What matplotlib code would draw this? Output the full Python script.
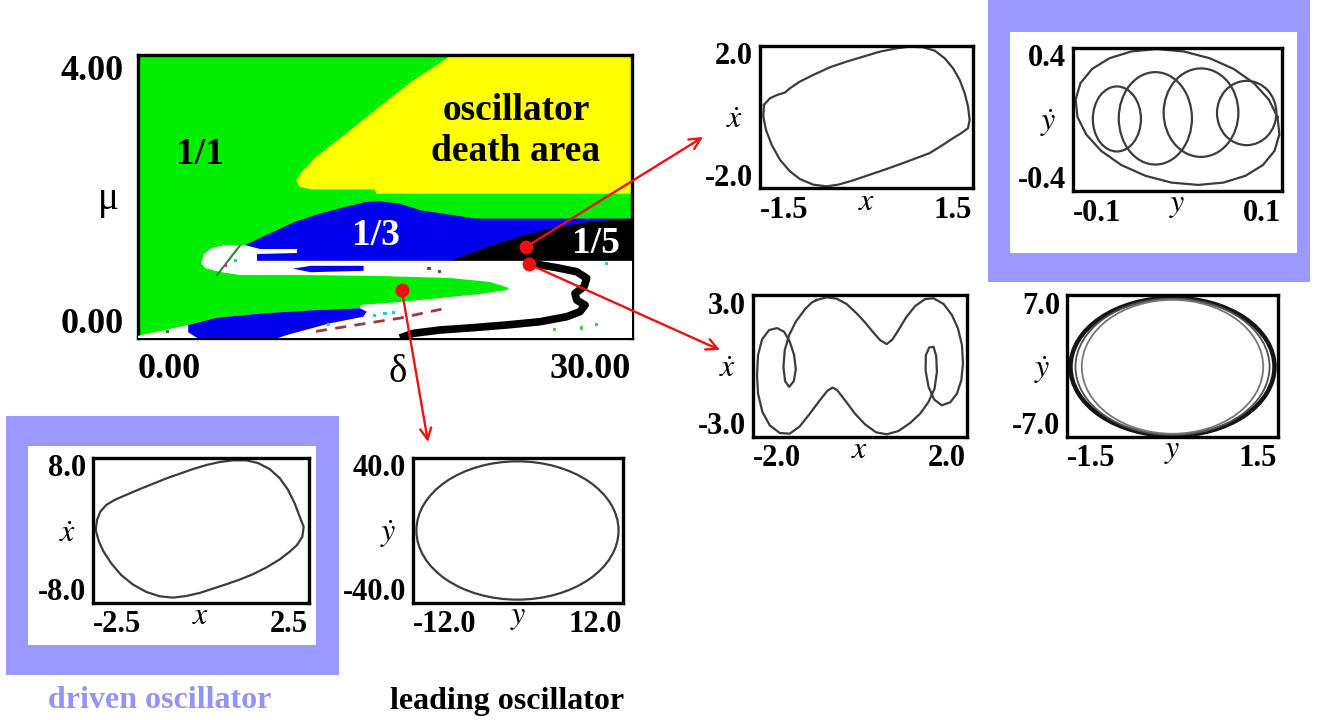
import matplotlib
matplotlib.use("Agg")
import matplotlib.pyplot as plt
import numpy as np
from matplotlib.patches import Polygon, Ellipse, Rectangle, ConnectionPatch

plt.rcParams['font.family'] = ['Liberation Serif', 'DejaVu Serif']
plt.rcParams['mathtext.fontset'] = 'stix'

# ---------------- data: main (delta, mu) map ----------------
delta_lim = [0.0, 30.0]
mu_lim = [0.0, 4.0]

yellow_d = [19.07, 16.65, 14.62, 12.58, 10.81, 9.92, 9.61, 9.79, 10.55, 14.36, 14.49, 30.0, 30.0]
yellow_m = [4.00, 3.63, 3.26, 2.88, 2.56, 2.34, 2.23, 2.14, 2.10, 2.10, 2.04, 2.04, 4.00]

blue_up_d = [6.48, 8.01, 9.53, 11.06, 12.58, 13.86, 14.62, 15.89, 17.16, 19.19, 20.47, 30.0, 30.0, 6.5, 6.2]
blue_up_m = [1.313, 1.477, 1.641, 1.759, 1.852, 1.923, 1.932, 1.899, 1.805, 1.735, 1.688, 1.688, 1.09, 1.09, 1.25]

black_d = [19.0, 19.4, 21.4, 23.3, 25.3, 27.6, 30.0, 30.0]
black_m = [1.09, 1.13, 1.30, 1.44, 1.56, 1.65, 1.68, 1.09]

white_d = [3.83, 4.01, 4.49, 5.28, 6.50, 7.41, 9.66, 9.66, 7.23, 7.23, 30.0, 30.0, 0.0, 0.0,
           3.05, 4.78, 7.61, 10.85, 13.48, 13.48, 15.91, 18.34, 20.77, 22.41, 22.53,
           21.38, 18.95, 14.70, 9.84, 7.23, 6.19, 4.98, 4.07]
white_m = [1.060, 1.187, 1.272, 1.314, 1.314, 1.258, 1.258, 1.201, 1.187, 1.09, 1.09, 0.0, 0.0, 0.03,
           0.184, 0.287, 0.349, 0.396, 0.420, 0.466, 0.509, 0.565, 0.622, 0.678, 0.707,
           0.792, 0.848, 0.876, 0.890, 0.890, 0.890, 0.933, 0.989]

blue_low_d = [3.05, 4.78, 7.61, 10.85, 13.48, 13.89, 13.68, 11.66, 9.03, 8.5, 3.6, 3.05]
blue_low_m = [0.184, 0.287, 0.349, 0.396, 0.420, 0.372, 0.301, 0.208, 0.042, 0.0, 0.0, 0.08]

sliver_d = [9.4, 10.5, 13.7, 13.7, 10.5]
sliver_m = [0.98, 1.02, 1.02, 0.95, 0.93]

s_curve_d = [23.5, 25.43, 26.64, 27.25, 27.09, 26.54, 26.64, 27.15, 26.84, 26.04, 24.41, 22.39,
             20.36, 18.34, 16.72, 15.91]
s_curve_m = [1.07, 0.994, 0.937, 0.844, 0.725, 0.632, 0.537, 0.466, 0.372, 0.301, 0.230, 0.184,
             0.146, 0.113, 0.066, 0.0]

dash_d = [10.81, 13.35, 15.89, 18.43]
dash_m = [0.094, 0.188, 0.28, 0.408]

tip_green_d = [4.8, 6.2]
tip_green_m = [0.89, 1.31]

# stray coloured pixels of the map
speck_d = [14.36, 15.0, 15.51, 17.67, 18.31, 25.30, 26.95, 27.84, 11.57, 1.78, 28.47, 5.3, 5.9]
speck_m = [0.314, 0.342, 0.361, 0.985, 0.938, 0.117, 0.141, 0.188, 0.188, 0.094, 1.055, 1.02, 1.10]
speck_c = ['#22cccc', '#22cccc', '#22cccc', '#a03838', '#a03838', '#33dd33', '#33dd33', '#33dd33',
           '#22cccc', '#228822', '#22cccc', '#cc3399', '#22cccc']

# red marked points and where their arrows end (figure pixels)
dot_d = [23.59, 23.72, 16.02]
dot_m = [1.29, 1.046, 0.68]
arrow_end_px = [(703, 137), (720, 350), (428, 442)]

# ---------------- data: phase portraits ----------------
p1_x = [-1.444, -1.359, -1.256, -1.148, -1.078, -0.938, -0.750, -0.516, -0.281, -0.047, 0.188, 0.422,
        0.609, 0.797, 0.961, 1.102, 1.219, 1.313, 1.383, 1.430, 1.453, 1.430, 1.336, 1.219, 1.078, 0.891,
        0.703, 0.516, 0.281, 0.047, -0.188, -0.398, -0.563, -0.750, -0.938, -1.078, -1.219, -1.336,
        -1.416, -1.453]
p1_v = [0.342, 0.529, 0.623, 0.689, 0.810, 0.998, 1.185, 1.400, 1.560, 1.700, 1.841, 1.934,
        1.981, 1.963, 1.869, 1.653, 1.372, 1.044, 0.670, 0.295, -0.080, -0.314, -0.454, -0.595, -0.782,
        -1.016, -1.157, -1.297, -1.466, -1.625, -1.785, -1.906, -1.953, -1.906, -1.747, -1.532, -1.204,
        -0.782, -0.361, 0.014]

p2_big_y = [0.0957, 0.0873, 0.0730, 0.0537, 0.0307, 0.0057, -0.0198, -0.0439, -0.0650, -0.0817, -0.0928,
            -0.0975, -0.0957, -0.0873, -0.0730, -0.0537, -0.0307, -0.0057, 0.0198, 0.0439, 0.0650, 0.0817,
            0.0928, 0.0975]
p2_big_v = [0.014, 0.112, 0.204, 0.283, 0.343, 0.381, 0.394, 0.381, 0.343, 0.283, 0.204, 0.112,
            0.014, -0.084, -0.176, -0.255, -0.315, -0.353, -0.366, -0.353, -0.315, -0.255, -0.176, -0.084]
p2_loop_cy = [-0.058, -0.0212, 0.0225, 0.0662]
p2_loop_cv = [0.003, 0.0065, 0.0383, 0.0364]
p2_loop_w = [0.046, 0.070, 0.0715, 0.0568]
p2_loop_h = [0.364, 0.517, 0.495, 0.360]

p3_x = [-0.8125, -0.625, -0.4375, -0.25, -0.0625, 0.094, 0.2375, 0.375, 0.5, 0.606, 0.719, 0.8625, 1.031,
        1.219, 1.375, 1.5625, 1.719, 1.831, 1.906, 1.925, 1.894, 1.8125, 1.6875, 1.531, 1.3875, 1.281,
        1.225, 1.231, 1.294, 1.375, 1.425, 1.4375, 1.394, 1.281, 1.125, 0.9375, 0.719, 0.5, 0.3, 0.094,
        -0.094, -0.281, -0.425, -0.5125, -0.6125, -0.75, -0.9375, -1.125, -1.3125, -1.5, -1.6875, -1.825,
        -1.906, -1.925, -1.906, -1.831, -1.7, -1.55, -1.419, -1.3125, -1.231, -1.2, -1.2375, -1.325, -1.4,
        -1.431, -1.406, -1.325, -1.2, -1.031, -0.906]
p3_v = [2.788, 2.901, 2.845, 2.619, 2.224, 1.842, 1.447, 1.094, 0.925, 1.122, 1.518, 2.054, 2.534,
        2.831, 2.859, 2.619, 2.153, 1.588, 0.882, 0.106, -0.600, -1.165, -1.532, -1.659, -1.419, -0.882,
        -0.177, 0.459, 0.783, 0.812, 0.416, -0.247, -0.953, -1.518, -2.012, -2.407, -2.746, -2.887, -2.802,
        -2.464, -2.012, -1.447, -1.024, -0.911, -1.052, -1.447, -2.012, -2.548, -2.859, -2.831, -2.506,
        -1.941, -1.165, -0.388, 0.459, 1.122, 1.518, 1.602, 1.447, 1.024, 0.459, -0.148, -0.642, -0.882,
        -0.642, -0.035, 0.671, 1.306, 1.871, 2.393, 2.675]

p4_cy = [0.0, 0.0, 0.0]
p4_cv = [-0.08, -0.08, -0.08]
p4_w = [2.90, 2.76, 2.58]
p4_h = [13.6, 13.45, 13.2]

p5_x = [-2.438, -2.407, -2.330, -2.191, -1.998, -1.728, -1.420, -1.111, -0.802, -0.494, -0.185, 0.123,
        0.432, 0.741, 1.049, 1.319, 1.590, 1.821, 2.014, 2.168, 2.284, 2.377, 2.346, 2.222, 2.052, 1.821,
        1.512, 1.204, 0.895, 0.586, 0.278, -0.031, -0.340, -0.648, -0.957, -1.265, -1.574, -1.844, -2.076,
        -2.253, -2.361]
p5_v = [0.055, 1.164, 2.088, 2.827, 3.381, 3.935, 4.563, 5.155, 5.746, 6.263, 6.781, 7.224,
        7.557, 7.741, 7.741, 7.446, 6.781, 5.783, 4.490, 3.011, 1.533, 0.425, -0.684, -1.608, -2.347, -3.196,
        -4.083, -4.822, -5.414, -5.931, -6.411, -6.892, -7.224, -7.409, -7.261, -6.781, -5.968, -4.933, -3.640,
        -2.347, -1.238]

p6_cy = [-0.06]
p6_cv = [0.0]
p6_w = [23.1]
p6_h = [76.3]

# ---------------- figure ----------------
W, H = 1326, 720
fig = plt.figure(figsize=(W / 100, H / 100), dpi=100)
fig.patch.set_facecolor('white')

def fx(px):
    return px / W

def fy(py):
    return 1 - py / H

def box_axes(l, t, r, b):
    a = fig.add_axes([l / W, 1 - b / H, (r - l) / W, (b - t) / H])
    a.set_xticks([])
    a.set_yticks([])
    for s in a.spines.values():
        s.set_linewidth(2.4)
        s.set_color('black')
    return a

LAV = '#9999ff'
# lavender frames (behind everything)
for (l, t, r, b), (il, it, ir, ib) in [((988, 0, 1310, 282), (1010, 32, 1297, 253)),
                                       ((6, 416, 339, 675), (28, 446, 316, 645))]:
    fig.add_artist(Rectangle((fx(l), fy(b)), (r - l) / W, (b - t) / H, transform=fig.transFigure,
                             fc=LAV, ec='none', zorder=0))
    fig.add_artist(Rectangle((fx(il), fy(ib)), (ir - il) / W, (ib - it) / H, transform=fig.transFigure,
                             fc='white', ec='none', zorder=0))

# ---------------- main map ----------------
ax = box_axes(138, 55, 632, 338)
ax.set_facecolor('#00ee00')
ax.set_xlim(delta_lim)
ax.set_ylim(mu_lim)

def poly(d, m, c, z):
    ax.add_patch(Polygon(np.column_stack([d, m]), closed=True, fc=c, ec='none', zorder=z))

poly(yellow_d, yellow_m, '#ffff00', 1)
poly(blue_up_d, blue_up_m, '#0000ee', 1)
poly(black_d, black_m, 'black', 2)
poly(white_d, white_m, 'white', 3)
poly(blue_low_d, blue_low_m, '#0000ee', 4)
poly(sliver_d, sliver_m, '#0000ee', 4)
ax.plot(s_curve_d, s_curve_m, color='black', lw=5.5, solid_capstyle='butt', solid_joinstyle='round', zorder=5)
ax.plot(dash_d, dash_m, color='#a03838', lw=2, dashes=(4, 3), zorder=5)
ax.plot(tip_green_d, tip_green_m, color='#2a8a2a', lw=1.5, zorder=5)
ax.scatter(speck_d, speck_m, c=speck_c, s=5, marker='s', linewidths=0, zorder=5)

lab = dict(fontsize=27, fontweight='bold', ha='center', va='center', zorder=6)
ax.text(3.77, 2.59, '1/1', **lab)
ax.text(14.42, 1.45, '1/3', color='white', **lab)
ax.text(27.8, 1.34, '1/5', color='white', **lab)
ax.text(23.0, 3.21, 'oscillator', **lab)
ax.text(22.95, 2.63, 'death area', **lab)

ax.plot(dot_d, dot_m, 'o', color='#ee1111', ms=9, zorder=8, clip_on=False)
for d, m, (ex, ey) in zip(dot_d, dot_m, arrow_end_px):
    fig.add_artist(ConnectionPatch(xyA=(d, m), coordsA=ax.transData,
                                   xyB=(fx(ex), fy(ey)), coordsB=fig.transFigure,
                                   arrowstyle='->,head_length=0.8,head_width=0.4',
                                   color='#ee1111', lw=1.7, zorder=9))

tick_kw = dict(fontsize=26, fontweight='bold', va='center')
fig.text(fx(124), fy(72), f"{mu_lim[1]:.2f}", ha='right', **tick_kw)
fig.text(fx(124), fy(325), f"{mu_lim[0]:.2f}", ha='right', **tick_kw)
fig.text(fx(138), fy(370), f"{delta_lim[0]:.2f}", ha='left', **tick_kw)
fig.text(fx(631), fy(370), f"{delta_lim[1]:.2f}", ha='right', **tick_kw)
fig.text(fx(108), fy(200), '\u03bc', fontsize=28, ha='center', va='center')
fig.text(fx(398), fy(372), '\u03b4', fontsize=28, ha='center', va='center')

# ---------------- phase portraits ----------------
CURVE = '#3c3c3c'

def panel(box, xlim, ylim, xname, yname):
    l, t, r, b = box
    a = box_axes(l, t, r, b)
    a.set_xlim(xlim)
    a.set_ylim(ylim)
    kw = dict(fontsize=22, fontweight='bold', va='center')
    fig.text(fx(l - 7), fy(t + 11), f"{ylim[1]:.1f}", ha='right', **kw)
    fig.text(fx(l - 7), fy(b - 10), f"{ylim[0]:.1f}", ha='right', **kw)
    fig.text(fx(l), fy(b + 22), f"{xlim[0]:.1f}", ha='left', **kw)
    fig.text(fx(r - 1), fy(b + 22), f"{xlim[1]:.1f}", ha='right', **kw)
    fig.text(fx((l + r) / 2), fy(b + 14), f"${xname}$", fontsize=23, ha='center', va='center')
    fig.text(fx(l - 25), fy((t + b) / 2 + 4), rf"$\dot{{{yname}}}$", fontsize=23, ha='center', va='center')
    return a

def closed(a, xs, vs, lw=1.6, c=CURVE):
    a.plot(np.append(xs, xs[0]), np.append(vs, vs[0]), color=c, lw=lw, solid_joinstyle='round')

def rings(a, cx, cv, w, h, lws, cols):
    for x0, v0, ww, hh, lw, c in zip(cx, cv, w, h, lws, cols):
        a.add_patch(Ellipse((x0, v0), ww, hh, fill=False, ec=c, lw=lw))

a1 = panel((760, 46, 973, 188), [-1.5, 1.5], [-2.0, 2.0], 'x', 'x')
closed(a1, p1_x, p1_v)

a2 = panel((1073, 48, 1282, 191), [-0.1, 0.1], [-0.4, 0.4], 'y', 'y')
closed(a2, p2_big_y, p2_big_v)
rings(a2, p2_loop_cy, p2_loop_cv, p2_loop_w, p2_loop_h, [1.6] * 4, [CURVE] * 4)

a3 = panel((753, 295, 967, 437), [-2.0, 2.0], [-3.0, 3.0], 'x', 'x')
closed(a3, p3_x, p3_v)

a4 = panel((1067, 295, 1278, 437), [-1.5, 1.5], [-7.0, 7.0], 'y', 'y')
rings(a4, p4_cy, p4_cv, p4_w, p4_h, [3.2, 1.3, 1.3], ['#151515', '#505050', '#777777'])

a5 = panel((93, 458, 309, 603), [-2.5, 2.5], [-8.0, 8.0], 'x', 'x')
closed(a5, p5_x, p5_v)

a6 = panel((413, 458, 623, 603), [-12.0, 12.0], [-40.0, 40.0], 'y', 'y')
rings(a6, p6_cy, p6_cv, p6_w, p6_h, [1.6], [CURVE])

fig.text(fx(160), fy(700), 'driven oscillator', fontsize=23, fontweight='bold', color='#9494f8',
         ha='center', va='center')
fig.text(fx(507), fy(702), 'leading oscillator', fontsize=23, fontweight='bold', ha='center', va='center')

fig.savefig('out.png', dpi=100)
